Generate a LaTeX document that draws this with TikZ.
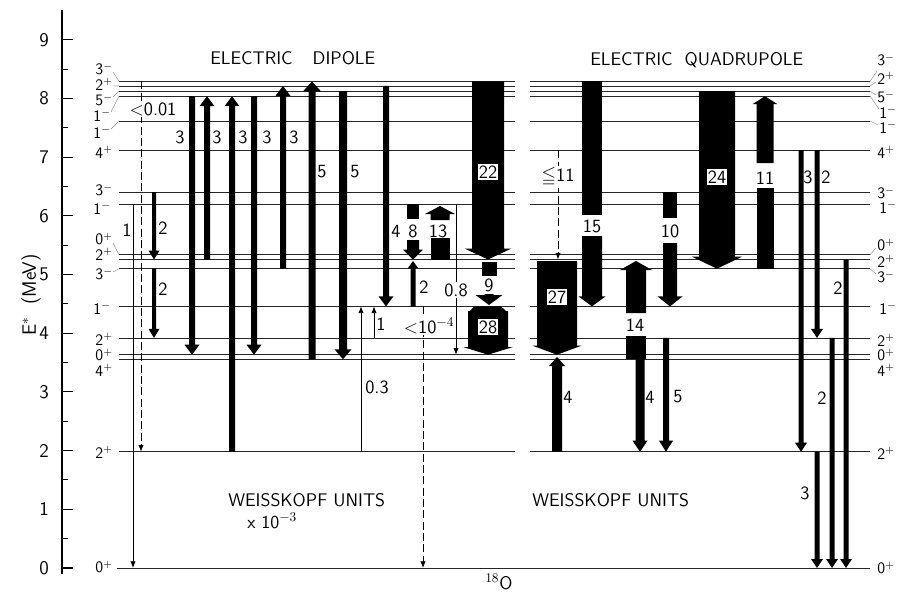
\documentclass[tikz,border=0pt]{standalone}
\usepackage{amssymb}
\usetikzlibrary{arrows.meta}
% level heights (pixels from top), y = 568 - 58.7*E
\def\lvA{568}     % 0+ 0
\def\lvB{451.7}   % 2+ 1.98
\def\lvC{359.3}   % 4+ 3.55
\def\lvD{354.7}   % 0+ 3.63
\def\lvE{337.9}   % 2+ 3.92
\def\lvF{306.4}   % 1- 4.46
\def\lvG{268.7}   % 3- 5.10
\def\lvH{259.5}   % 2+ 5.25
\def\lvI{254.8}   % 0+ 5.34
\def\lvJ{204.2}   % 1- 6.20
\def\lvK{192.1}   % 3- 6.40
\def\lvL{150.2}   % 4+ 7.12
\def\lvM{120.9}   % 1- 7.62
\def\lvN{96.2}    % 1- 8.04
\def\lvO{91.1}    % 5- 8.13
\def\lvP{85.9}    % 2+ 8.21
\def\lvQ{81.4}    % 3- 8.29
% fat arrow: x, ystart, yend(tip), shaft width, head width, head length
\newcommand\fatarr[6]{%
  \pgfmathsetmacro\arrdir{(#3>#2) ? 1 : -1}%
  \pgfmathsetmacro\arrbase{#3-\arrdir*#6}%
  \fill ({#1-#4/2},{#2}) -- ({#1+#4/2},{#2}) -- ({#1+#4/2},\arrbase) -- ({#1+#5/2},\arrbase)
     -- ({#1},{#3}) -- ({#1-#5/2},\arrbase) -- ({#1-#4/2},\arrbase) -- cycle;}
% black bar piece: x, y1, y2, width
\newcommand\blkbar[4]{\fill ({#1-#4/2},{#2}) rectangle ({#1+#4/2},{#3});}
\begin{document}
\begin{tikzpicture}[x=0.75pt,y=-0.75pt,
  lvl/.style={line width=0.6pt,black!85},
  lead/.style={line width=0.35pt,black!45},
  thinarr/.style={line width=0.6pt,-{Latex[length=5pt,width=4pt]}},
  dasharr/.style={thinarr,dash pattern=on 6pt off 2.5pt},
  lbl/.style={font=\sffamily\fontsize{14}{15}\selectfont,inner sep=1pt},
  wlbl/.style={lbl,fill=white},
  lvlab/.style={font=\sffamily\fontsize{12}{13}\selectfont,inner sep=0pt},
  axlab/.style={font=\sffamily\fontsize{14.5}{16}\selectfont,inner sep=0pt},
  ttl/.style={font=\sffamily\fontsize{13.7}{15}\selectfont,inner sep=0pt,anchor=west}]
\useasboundingbox (0,0) rectangle (897,593);
\fill[white] (0,0) rectangle (897,593);

% ---------- axis ----------
\draw[line width=0.8pt] (62,10) -- (62,574);
\foreach \e in {0,...,9} {
  \draw[line width=0.8pt] (62,{568-58.7*\e}) -- (73,{568-58.7*\e});
  \node[axlab] (ax\e) at (44,{568-58.7*\e}) {\e};
}
\foreach \e in {0.5,1.5,...,8.5}
  \draw[line width=0.8pt] (62,{568-58.7*\e}) -- (68,{568-58.7*\e});
\node[axlab,rotate=90] (ylab) at (31,295) {E$^{\ast}$\ \ (MeV)};

% ---------- level lines ----------
\draw[lvl] (117,\lvA) -- (870,\lvA);
\foreach \yy in {\lvB,\lvC,\lvD,\lvE,\lvF,\lvG,\lvH,\lvI,\lvJ,\lvK,\lvL,\lvM,\lvN,\lvO,\lvP,\lvQ} {
  \draw[lvl] (119,\yy) -- (515,\yy);
  \draw[lvl] (530,\yy) -- (870,\yy);
}

% ---------- left level labels ----------
\node[lvlab,anchor=east] (ll1) at (113,69) {3$^{-}$};
\node[lvlab,anchor=east] (ll2) at (113,84) {2$^{+}$};
\node[lvlab,anchor=east] (ll3) at (113,100) {5$^{-}$};
\node[lvlab,anchor=east] (ll4) at (111,115) {1$^{-}$};
\node[lvlab,anchor=east] (ll5) at (111,132) {1$^{-}$};
\node[lvlab,anchor=east] (ll6) at (113,152) {4$^{+}$};
\node[lvlab,anchor=east] (ll7) at (113,190) {3$^{-}$};
\node[lvlab,anchor=east] (ll8) at (111,208) {1$^{-}$};
\node[lvlab,anchor=east] (ll9) at (113,239) {0$^{+}$};
\node[lvlab,anchor=east] (ll10) at (113,254) {2$^{+}$};
\node[lvlab,anchor=east] (ll11) at (113,274) {3$^{-}$};
\node[lvlab,anchor=east] (ll12) at (111,308) {1$^{-}$};
\node[lvlab,anchor=east] (ll13) at (113,339) {2$^{+}$};
\node[lvlab,anchor=east] (ll14) at (113,355) {0$^{+}$};
\node[lvlab,anchor=east] (ll15) at (113,370) {4$^{+}$};
\node[lvlab,anchor=east] (ll16) at (113,452) {2$^{+}$};
\node[lvlab,anchor=east] (ll17) at (113,567) {0$^{+}$};
\draw[lead] (113,72) -- (119,\lvQ);
\draw[lead] (113,86) -- (119,\lvP);
\draw[lead] (113,97) -- (119,\lvO);
\draw[lead] (111,112) -- (119,\lvN);
\draw[lead] (111,129) -- (119,\lvM);
\draw[lead] (113,243) -- (119,\lvI);
\draw[lead] (113,272) -- (119,\lvG);

% ---------- right level labels ----------
\node[lvlab,anchor=west] (rl1) at (877,60) {3$^{-}$};
\node[lvlab,anchor=west] (rl2) at (877,78) {2$^{+}$};
\node[lvlab,anchor=west] (rl3) at (877,97) {5$^{-}$};
\node[lvlab,anchor=west] (rl4) at (879,112) {1$^{-}$};
\node[lvlab,anchor=west] (rl5) at (879,127) {1$^{-}$};
\node[lvlab,anchor=west] (rl6) at (877,152) {4$^{+}$};
\node[lvlab,anchor=west] (rl7) at (877,193) {3$^{-}$};
\node[lvlab,anchor=west] (rl8) at (879,207) {1$^{-}$};
\node[lvlab,anchor=west] (rl9) at (877,245) {0$^{+}$};
\node[lvlab,anchor=west] (rl10) at (877,261) {2$^{+}$};
\node[lvlab,anchor=west] (rl11) at (877,277) {3$^{-}$};
\node[lvlab,anchor=west] (rl12) at (879,308) {1$^{-}$};
\node[lvlab,anchor=west] (rl13) at (877,340) {2$^{+}$};
\node[lvlab,anchor=west] (rl14) at (877,355) {0$^{+}$};
\node[lvlab,anchor=west] (rl15) at (877,370) {4$^{+}$};
\node[lvlab,anchor=west] (rl16) at (877,453) {2$^{+}$};
\node[lvlab,anchor=west] (rl17) at (877,568) {0$^{+}$};
\draw[lead] (870,\lvQ) -- (877,71);
\draw[lead] (870,\lvP) -- (876,82);
\draw[lead] (870,\lvO) -- (876,95);
\draw[lead] (870,\lvN) -- (879,109);
\draw[lead] (870,\lvM) -- (878,125);
\draw[lead] (870,\lvI) -- (876,248);
\draw[lead] (870,\lvG) -- (876,274);

% ---------- titles ----------
\node[ttl] (t1) at (210,58) {ELECTRIC\hspace{15pt}DIPOLE};
\node[ttl] (t2) at (590,60) {ELECTRIC\hspace{9pt}QUADRUPOLE};
\node[ttl] (w1) at (228,500) {WEISSKOPF UNITS};
\node[ttl] (w2) at (247,521) {x 10$^{-3}$};
\node[ttl] (w3) at (532,500) {WEISSKOPF UNITS};
\node[ttl] (nuc) at (485,582) {$^{18}$O};

% ---------- electric dipole transitions ----------
\draw[thinarr] (133,\lvJ) -- (133,\lvA);
\draw[dasharr] (141,\lvQ) -- (141,\lvB);
\fatarr{154}{\lvK}{\lvH}{4}{11}{9}
\fatarr{154}{\lvG}{\lvE}{4}{11}{9}
\fatarr{192}{\lvN}{\lvD}{6}{15}{10}
\fatarr{207}{\lvH}{\lvN}{6}{15}{10}
\fatarr{232}{\lvB}{\lvN}{6}{15}{10}
\fatarr{254}{\lvN}{\lvD}{6}{15}{10}
\fatarr{283}{\lvG}{\lvP}{6}{15}{10}
\fatarr{312}{\lvC}{\lvQ}{7}{18}{10}
\fatarr{343}{\lvO}{\lvC}{8}{17}{10}
\fatarr{386}{\lvP}{\lvF}{6}{15}{10}
% 8
\blkbar{413}{\lvJ}{219}{12}
\fatarr{413}{240}{\lvH}{12}{20}{10}
% 2 (up)
\fatarr{413}{\lvF}{261}{5}{10}{7}
% 13 (up)
\blkbar{440}{\lvH}{238}{19}
\fatarr{440}{220}{206}{19}{30}{8}
% 0.8
\draw[thinarr] (456,\lvJ) -- (456,\lvD);
% 22
\fatarr{488}{\lvQ}{\lvH}{32}{47}{11}
% 9
\blkbar{489}{262}{276}{15}
\fatarr{489}{294}{305}{9}{27}{10}
% 28
\fill (474,\lvF) -- (501,\lvF) -- (506,311) -- (508,311) -- (508,347) -- (513,347)
  -- (488,\lvD) -- (463,347) -- (468,347) -- (468,311) -- (470,311) -- cycle;
% thin up arrows 1 and 0.3
\draw[thinarr] (374,\lvE) -- (374,\lvF);
\draw[thinarr] (361,\lvB) -- (361,\lvF);
% dashed <10^-4
\draw[dasharr] (423,\lvF) -- (423,\lvA);

% labels, left panel
\node[lbl] (a1) at (127,230) {1};
\node[wlbl] (a2) at (153,109) {<0.01};
\node[lbl] (a3) at (163,228) {2};
\node[lbl] (a4) at (163,289) {2};
\node[lbl] (a5) at (180,137) {3};
\node[lbl] (a6) at (217,137) {3};
\node[lbl] (a7) at (243,137) {3};
\node[lbl] (a8) at (267,137) {3};
\node[lbl] (a9) at (294,137) {3};
\node[lbl] (a10) at (322,172) {5};
\node[lbl] (a11) at (355,172) {5};
\node[lbl] (a12) at (396,231) {4};
\node[lbl] (a13) at (413,231) {8};
\node[lbl] (a14) at (438,231) {13};
\node[lbl] (a15) at (424,287) {2};
\node[wlbl] (a16) at (456,290) {0.8};
\node[wlbl] (a17) at (488,172) {22};
\node[lbl] (a18) at (489,285) {9};
\node[wlbl] (a19) at (488,327) {28};
\node[lbl] (a20) at (381,324) {1};
\node[lbl] (a21) at (377,387) {0.3};
\node[wlbl] (a22) at (429,326) {<10$^{-4}$};

% ---------- electric quadrupole transitions ----------
\draw[dasharr] (558,\lvL) -- (558,\lvH);
% 15
\blkbar{592}{\lvQ}{215}{20}
\fatarr{592}{236}{\lvF}{20}{27}{10}
% 27
\fatarr{557}{261}{\lvD}{40}{49}{9}
% 4 up
\fatarr{557}{\lvB}{357}{10}{16}{9}
% 14
\fatarr{636}{313}{261}{20}{32}{9}
\blkbar{636}{\lvC}{336}{20}
% 4 down
\fatarr{640}{\lvC}{\lvB}{9}{15}{11}
% 5
\fatarr{666}{\lvE}{\lvB}{6}{14}{11}
% 10
\blkbar{670}{\lvK}{218}{14}
\fatarr{670}{243}{\lvF}{14}{25}{10}
% 24
\fatarr{717}{\lvO}{\lvG}{36}{50}{12}
% 11 up
\blkbar{765}{\lvG}{188}{17}
\fatarr{765}{163}{\lvN}{17}{25}{8}
% thin E2 arrows
\fatarr{801}{\lvL}{\lvB}{5}{12}{9}
\fatarr{817}{\lvL}{\lvE}{5}{12}{9}
\fatarr{832}{\lvE}{\lvA}{5}{12}{9}
\fatarr{846}{\lvH}{\lvA}{5}{12}{9}
\fatarr{817}{\lvB}{\lvA}{5}{12}{9}

% labels, right panel
\node[wlbl] (b1) at (558,177) {$\leqq$11};
\node[lbl] (b2) at (592,226) {15};
\node[wlbl] (b3) at (557,297) {27};
\node[lbl] (b4) at (568,397) {4};
\node[lbl] (b5) at (635,325) {14};
\node[lbl] (b6) at (650,397) {4};
\node[lbl] (b7) at (678,397) {5};
\node[lbl] (b8) at (670,231) {10};
\node[wlbl] (b9) at (717,177) {24};
\node[lbl] (b10) at (765,178) {11};
\node[lbl] (b11) at (808,177) {3};
\node[lbl] (b12) at (826,177) {2};
\node[lbl] (b13) at (822,398) {2};
\node[lbl] (b14) at (838,288) {2};
\node[lbl] (b15) at (805,493) {3};
\end{tikzpicture}
\end{document}
